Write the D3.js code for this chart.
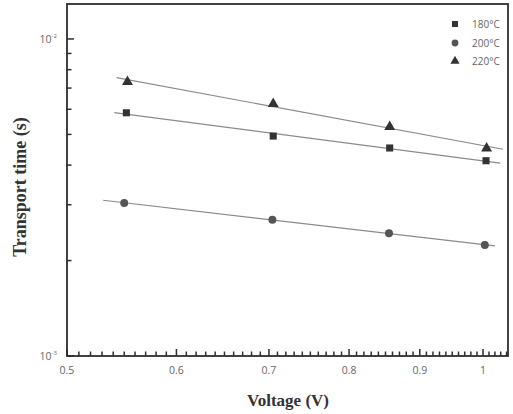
<!DOCTYPE html>
<html>
<head>
<meta charset="utf-8">
<script src="https://cdn.jsdelivr.net/npm/d3@7/dist/d3.min.js"></script>
<style>
  html, body { margin: 0; padding: 0; background: #fff; }
  svg { display: block; }
</style>
</head>
<body>
<svg id="chart" width="513" height="414"></svg>
<script>
// ---- data ----
const seriesNames = ["180°C", "200°C", "220°C"];
const seriesSymbols = ["square", "circle", "triangle"];
const voltage180 = [0.552, 0.705, 0.856, 1.005];
const time180 = [5.85e-3, 4.94e-3, 4.53e-3, 4.13e-3];
const voltage200 = [0.550, 0.704, 0.855, 1.003];
const time200 = [3.04e-3, 2.69e-3, 2.44e-3, 2.24e-3];
const voltage220 = [0.553, 0.705, 0.856, 1.006];
const time220 = [7.33e-3, 6.24e-3, 5.28e-3, 4.52e-3];
const fitStart = [0.541, 0.531, 0.543];
const fitEnd = [1.029, 1.020, 1.034];
const xTickValues = [0.5, 0.6, 0.7, 0.8, 0.9, 1.0];
const xTickLabels = ["0.5", "0.6", "0.7", "0.8", "0.9", "1"];
const yTickValues = [1e-3, 1e-2];
const yTickExponents = ["-3", "-2"];

const series = [
  { name: seriesNames[0], sym: seriesSymbols[0], x: voltage180, y: time180, x0: fitStart[0], x1: fitEnd[0] },
  { name: seriesNames[1], sym: seriesSymbols[1], x: voltage200, y: time200, x0: fitStart[1], x1: fitEnd[1] },
  { name: seriesNames[2], sym: seriesSymbols[2], x: voltage220, y: time220, x0: fitStart[2], x1: fitEnd[2] }
];

// ---- layout ----
const L = 67, R = 508, T = 4, B = 356;
const svg = d3.select("#chart");

const x = d3.scaleLog().domain([0.5, 1.0425]).range([L, R]);
const y = d3.scaleLog().domain([1e-3, 0.01289]).range([B, T]);

const axisColor = "#2e2e2e";
const labelColor = "#666";

// frame
svg.append("rect")
  .attr("x", L).attr("y", T).attr("width", R - L).attr("height", B - T)
  .attr("fill", "none").attr("stroke", axisColor).attr("stroke-width", 1.8);

// x ticks (inward)
const xMinor = d3.range(51, 105).map(d => d / 100).filter(d => d <= 1.04 && Math.round(d * 100) % 10 !== 0);
const ticks = svg.append("g").attr("stroke", axisColor).attr("stroke-width", 1.5);
ticks.selectAll("line.xmin").data(xMinor).join("line").attr("class", "xmin")
  .attr("x1", d => x(d)).attr("x2", d => x(d))
  .attr("y1", B).attr("y2", B - 4.5);
ticks.selectAll("line.xmaj").data(xTickValues).join("line").attr("class", "xmaj")
  .attr("x1", d => x(d)).attr("x2", d => x(d))
  .attr("y1", B).attr("y2", B - 7);

svg.append("g").selectAll("text").data(xTickValues).join("text")
  .attr("x", d => x(d)).attr("y", B + 18)
  .attr("text-anchor", "middle")
  .attr("fill", labelColor)
  .style("font-family", "'Open Sans', Arial, sans-serif")
  .style("font-size", "10.5px")
  .text((d, i) => xTickLabels[i]);

// y ticks (inward)
const yMinor = d3.range(2, 10).map(d => d * 1e-3);
ticks.selectAll("line.ymin").data(yMinor).join("line").attr("class", "ymin")
  .attr("x1", L).attr("x2", L + 4.5)
  .attr("y1", d => y(d)).attr("y2", d => y(d));
ticks.selectAll("line.ymaj").data(yTickValues).join("line").attr("class", "ymaj")
  .attr("x1", L).attr("x2", L + 7)
  .attr("y1", d => y(d)).attr("y2", d => y(d));

// y tick labels 10^n
yTickValues.forEach((v, i) => {
  const t = svg.append("text")
    .attr("x", L - 10).attr("y", y(v) + 4)
    .attr("text-anchor", "end")
    .attr("fill", labelColor)
    .style("font-family", "'Open Sans', Arial, sans-serif")
    .style("font-size", "10.5px");
  t.append("tspan").text("10");
  t.append("tspan").attr("dy", -5).style("font-size", "6px").text(yTickExponents[i]);
});

// axis titles
svg.append("text")
  .attr("x", 288).attr("y", 406)
  .attr("text-anchor", "middle")
  .attr("fill", "#333")
  .style("font-family", "'Liberation Serif', 'Times New Roman', serif")
  .style("font-weight", "bold")
  .style("font-size", "17px")
  .text("Voltage (V)");

svg.append("text")
  .attr("transform", "translate(26,187) rotate(-90)")
  .attr("text-anchor", "middle")
  .attr("fill", "#333")
  .style("font-family", "'Liberation Serif', 'Times New Roman', serif")
  .style("font-weight", "bold")
  .style("font-size", "18px")
  .text("Transport time (s)");

// fit lines (least squares in log-log)
function fit(xs, ys) {
  const lx = xs.map(Math.log10), ly = ys.map(Math.log10);
  const mx = d3.mean(lx), my = d3.mean(ly);
  let num = 0, den = 0;
  lx.forEach((v, i) => { num += (v - mx) * (ly[i] - my); den += (v - mx) * (v - mx); });
  const b = num / den, a = my - b * mx;
  return xv => Math.pow(10, a + b * Math.log10(xv));
}

const line = d3.line().x(d => x(d[0])).y(d => y(d[1]));
series.forEach(s => {
  const f = fit(s.x, s.y);
  svg.append("path")
    .attr("d", line([[s.x0, f(s.x0)], [s.x1, f(s.x1)]]))
    .attr("fill", "none")
    .attr("stroke", "#8a8a8a")
    .attr("stroke-width", 1.2);
});

// markers
const symType = { square: d3.symbolSquare, circle: d3.symbolCircle, triangle: d3.symbolTriangle };
const symSize = { square: 50, circle: 50, triangle: 52 };
const markColor = { square: "#333", circle: "#555", triangle: "#333" };
series.forEach(s => {
  svg.append("g").selectAll("path")
    .data(s.x.map((v, i) => [v, s.y[i]]))
    .join("path")
    .attr("transform", d => `translate(${x(d[0])},${y(d[1])})`)
    .attr("d", d3.symbol().type(symType[s.sym]).size(symSize[s.sym]))
    .attr("fill", markColor[s.sym]);
});

// legend
const legX = 455, legY = [24, 43, 61];
series.forEach((s, i) => {
  svg.append("path")
    .attr("transform", `translate(${legX},${legY[i]})`)
    .attr("d", d3.symbol().type(symType[s.sym]).size(36))
    .attr("fill", markColor[s.sym]);
  svg.append("text")
    .attr("x", legX + 17).attr("y", legY[i] + 3.5)
    .attr("fill", labelColor)
    .style("font-family", "'Open Sans', Arial, sans-serif")
    .style("font-size", "10px")
    .text(s.name);
});
</script>
</body>
</html>
